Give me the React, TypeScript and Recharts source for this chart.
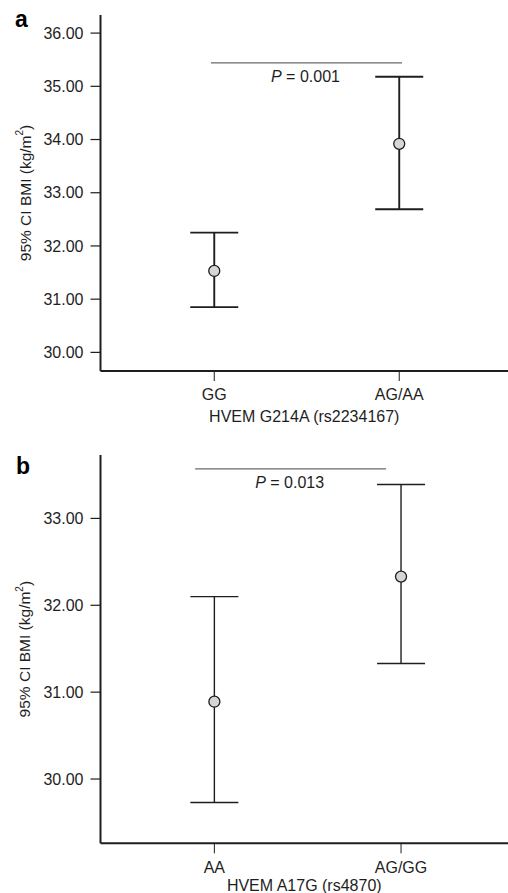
import React from 'react'
import {
  ErrorBar,
  ReferenceLine,
  Scatter,
  ScatterChart,
  XAxis,
  YAxis,
} from 'recharts'

// panel a: HVEM G214A
const categoriesA = ['GG', 'AG/AA']
const meanA = [31.53, 33.92]
const lowerA = [30.85, 32.69]
const upperA = [32.25, 35.18]
const yTicksA = [30, 31, 32, 33, 34, 35, 36]

// panel b: HVEM A17G
const categoriesB = ['AA', 'AG/GG']
const meanB = [30.89, 32.33]
const lowerB = [29.73, 31.33]
const upperB = [32.1, 33.39]
const yTicksB = [30, 31, 32, 33]

const FONT = '"Liberation Sans", Arial, Helvetica, sans-serif'
const INK = '#1e1e1e'

const buildRows = (cats: string[], mean: number[], lower: number[], upper: number[]) =>
  cats.map((c, i) => ({
    x: i + 1,
    name: c,
    mean: mean[i],
    err: [mean[i] - lower[i], upper[i] - mean[i]],
  }))

const Dot = (props: any) => {
  const { cx, cy } = props
  if (cx == null || cy == null) return null
  return <circle cx={cx} cy={cy} r={5.5} fill="#d6d6d6" stroke={INK} strokeWidth={1.3} />
}

const YTitle = (props: any) => {
  const vb = props.viewBox || {}
  const cx = 25
  const cy = vb.y + vb.height / 2
  return (
    <text
      x={cx}
      y={cy}
      transform={`rotate(-90 ${cx} ${cy})`}
      textAnchor="middle"
      dominantBaseline="central"
      fontSize={15.5}
      fill={INK}
    >
      95% CI BMI (kg/m<tspan dy={-6} fontSize={10}>2</tspan>
      <tspan dy={6}>)</tspan>
    </text>
  )
}

const makeXTitle = (title: string, offset: number) => (props: any) => {
  const vb = props.viewBox || {}
  return (
    <text x={vb.x + vb.width / 2} y={vb.y + offset} textAnchor="middle" fontSize={16} fill={INK}>
      {title}
    </text>
  )
}

// "P = 0.001" under the bracket line, P in italics
const makePLabel = (value: string) => (props: any) => {
  const vb = props.viewBox || {}
  return (
    <text x={vb.x + vb.width / 2 - 1} y={vb.y + 19.5} textAnchor="middle" fontSize={16} fill={INK}>
      <tspan fontStyle="italic">P</tspan>
      {' = ' + value}
    </text>
  )
}

interface PanelProps {
  cats: string[]
  mean: number[]
  lower: number[]
  upper: number[]
  yTicks: number[]
  yDomain: [number, number]
  xDomain: [number, number]
  height: number
  axisHeight: number
  title: string
  titleOffset: number
  pValue: string
  pY: number
  pX: [number, number]
  barWidth: number
  barStroke: number
}

function Panel(p: PanelProps) {
  const rows = buildRows(p.cats, p.mean, p.lower, p.upper)
  return (
    <ScatterChart width={508} height={p.height} margin={{ top: 15, right: 0, bottom: 0, left: 0 }}>
      <XAxis
        xAxisId="top"
        orientation="top"
        type="number"
        dataKey="x"
        domain={p.xDomain}
        allowDataOverflow
        height={0}
        tick={false}
        tickLine={false}
        axisLine={{ stroke: '#6a6a6a', strokeWidth: 1.2 }}
      />
      <XAxis
        type="number"
        dataKey="x"
        domain={p.xDomain}
        allowDataOverflow
        ticks={[1, 2]}
        tickFormatter={(v: number) => p.cats[v - 1] ?? ''}
        height={p.axisHeight}
        tickSize={10}
        tickMargin={8}
        tick={{ fontSize: 16, fill: INK }}
        tickLine={{ stroke: INK, strokeWidth: 1 }}
        axisLine={{ stroke: INK, strokeWidth: 2 }}
        label={{ content: makeXTitle(p.title, p.titleOffset) }}
      />
      <YAxis
        type="number"
        dataKey="mean"
        domain={p.yDomain}
        allowDataOverflow
        ticks={p.yTicks}
        tickFormatter={(v: number) => v.toFixed(2)}
        width={100.5}
        tickSize={10}
        tickMargin={7}
        tick={{ fontSize: 16, fill: INK }}
        tickLine={{ stroke: INK, strokeWidth: 1.2 }}
        axisLine={{ stroke: INK, strokeWidth: 2 }}
        label={{ content: YTitle }}
      />
      <ReferenceLine
        segment={[
          { x: p.pX[0], y: p.pY },
          { x: p.pX[1], y: p.pY },
        ]}
        stroke="#6a6a6a"
        strokeWidth={1.3}
        label={{ content: makePLabel(p.pValue) }}
      />
      <Scatter data={rows} dataKey="mean" shape={<Dot />} isAnimationActive={false}>
        <ErrorBar
          dataKey="err"
          direction="y"
          width={p.barWidth}
          stroke={INK}
          strokeWidth={p.barStroke}
          isAnimationActive={false}
        />
      </Scatter>
    </ScatterChart>
  )
}

export default function App() {
  return (
    <div
      style={{
        position: 'absolute',
        left: 0,
        top: 0,
        width: 508,
        height: 893,
        background: '#fff',
        fontFamily: FONT,
        overflow: 'hidden',
      }}
    >
      <div style={{ position: 'absolute', left: 15, top: 7.5, fontSize: 23, lineHeight: 1, fontWeight: 'bold' }}>
        a
      </div>
      <div style={{ position: 'absolute', left: 0, top: 0 }}>
        <Panel
          cats={categoriesA}
          mean={meanA}
          lower={lowerA}
          upper={upperA}
          yTicks={yTicksA}
          yDomain={[29.65, 36.34]}
          xDomain={[0.385, 2.588]}
          height={440}
          axisHeight={69}
          title="HVEM G214A (rs2234167)"
          titleOffset={50.5}
          pValue="0.001"
          pY={35.44}
          pX={[0.982, 2.015]}
          barWidth={24}
          barStroke={1.9}
        />
      </div>
      <div style={{ position: 'absolute', left: 16, top: 454.5, fontSize: 23, lineHeight: 1, fontWeight: 'bold' }}>
        b
      </div>
      <div style={{ position: 'absolute', left: 0, top: 440 }}>
        <Panel
          cats={categoriesB}
          mean={meanB}
          lower={lowerB}
          upper={upperB}
          yTicks={yTicksB}
          yDomain={[29.26, 33.73]}
          xDomain={[0.39, 2.573]}
          height={453}
          axisHeight={49.7}
          title="HVEM A17G (rs4870)"
          titleOffset={48}
          pValue="0.013"
          pY={33.57}
          pX={[0.897, 1.92]}
          barWidth={24}
          barStroke={1.4}
        />
      </div>
    </div>
  )
}
